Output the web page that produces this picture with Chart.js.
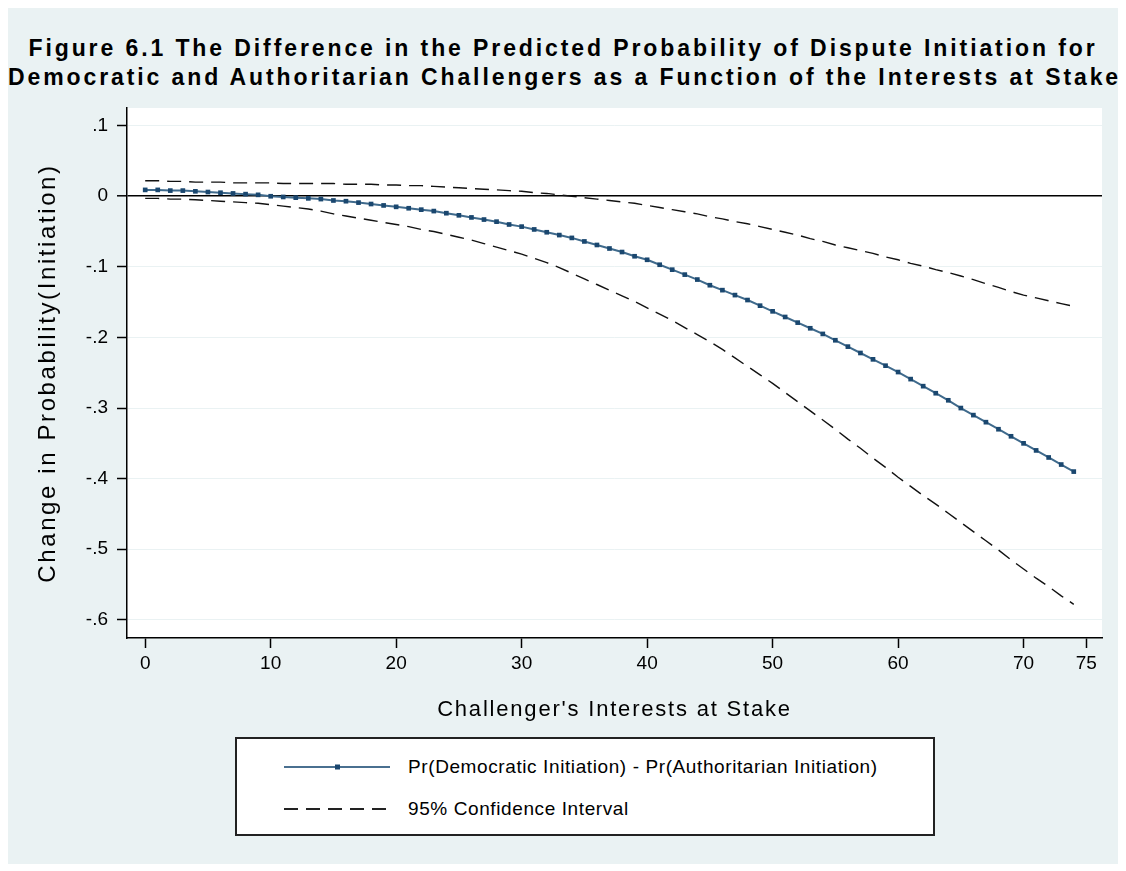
<!DOCTYPE html>
<html>
<head>
<meta charset="utf-8">
<title>Figure 6.1</title>
<script src="https://cdn.jsdelivr.net/npm/chart.js@4.4.1/dist/chart.umd.min.js"></script>
<style>
  body { margin: 0; background: #fff; font-family: "Liberation Sans", Arial, sans-serif; }
  #frame { position: relative; width: 1126px; height: 871px; overflow: hidden; }
  #panel { position: absolute; left: 8px; top: 8px; width: 1110px; height: 856px; background: #eaf2f3; }
  #title {
    position: absolute; left: 8px; top: 34px; width: 1110px;
    text-align: center; font-weight: bold; font-size: 23px; line-height: 29px;
    letter-spacing: 2.9px; color: #000; white-space: nowrap;
  }
  #chartBox { position: absolute; left: 0; top: 0; width: 1126px; height: 871px; }
  #legend {
    position: absolute; left: 235px; top: 737px; width: 696px; height: 95px;
    background: #fff; border: 2px solid #222;
  }
  .row { position: absolute; left: 0; height: 24px; display: flex; align-items: center; }
  .row svg { margin-left: 47px; margin-right: 18px; }
  .row span { font-size: 19px; letter-spacing: 0.6px; color: #000; white-space: nowrap; }
</style>
</head>
<body>
<div id="frame">
  <div id="panel"></div>
  <div id="title">Figure 6.1 The Difference in the Predicted Probability of Dispute Initiation for<br>Democratic and Authoritarian Challengers as a Function of the Interests at Stake</div>
  <div id="chartBox"><canvas id="grafico"></canvas></div>
  <div id="legend">
    <div class="row" style="top:16px">
      <svg width="106" height="10"><line x1="0" y1="5" x2="106" y2="5" stroke="#4a7090" stroke-width="2"/><rect x="51" y="2.5" width="5" height="5" fill="#1a476f"/></svg>
      <span id="lab0"></span>
    </div>
    <div class="row" style="top:58px">
      <svg width="106" height="10"><line x1="0" y1="5" x2="106" y2="5" stroke="#222" stroke-width="2" stroke-dasharray="14 8"/></svg>
      <span id="lab1"></span>
    </div>
  </div>
</div>
<script>
// interests at stake (x) and the three estimated curves
const interesses = [
  0, 1, 2, 3, 4, 5, 6, 7, 8, 9, 10, 11, 12, 13, 14, 15, 16, 17, 18, 19,
  20, 21, 22, 23, 24, 25, 26, 27, 28, 29, 30, 31, 32, 33, 34, 35, 36, 37, 38, 39,
  40, 41, 42, 43, 44, 45, 46, 47, 48, 49, 50, 51, 52, 53, 54, 55, 56, 57, 58, 59,
  60, 61, 62, 63, 64, 65, 66, 67, 68, 69, 70, 71, 72, 73, 74
];

const diferenca = [
  0.009, 0.009, 0.008, 0.008, 0.007, 0.006, 0.005, 0.004, 0.003, 0.002,
  0.000, -0.001, -0.002, -0.003, -0.004, -0.006, -0.007, -0.009, -0.011, -0.013,
  -0.015, -0.017, -0.019, -0.021, -0.024, -0.027, -0.030, -0.033, -0.036, -0.040,
  -0.043, -0.047, -0.051, -0.055, -0.059, -0.064, -0.069, -0.074, -0.079, -0.085,
  -0.090, -0.097, -0.104, -0.111, -0.118, -0.126, -0.133, -0.140, -0.147, -0.155,
  -0.163, -0.171, -0.179, -0.187, -0.195, -0.204, -0.213, -0.222, -0.231, -0.240,
  -0.249, -0.259, -0.269, -0.279, -0.289, -0.300, -0.310, -0.320, -0.330, -0.340,
  -0.350, -0.360, -0.370, -0.380, -0.390
];

const limiteSuperior = [
  0.022, 0.022, 0.021, 0.021, 0.020, 0.020, 0.020, 0.019, 0.019, 0.019,
  0.019, 0.018, 0.018, 0.018, 0.018, 0.018, 0.017, 0.017, 0.017, 0.016,
  0.016, 0.015, 0.015, 0.014, 0.013, 0.012, 0.011, 0.010, 0.009, 0.008,
  0.007, 0.005, 0.004, 0.002, 0.000, -0.002, -0.004, -0.006, -0.008, -0.010,
  -0.013, -0.016, -0.019, -0.022, -0.025, -0.029, -0.032, -0.036, -0.039, -0.043,
  -0.047, -0.051, -0.055, -0.060, -0.064, -0.069, -0.073, -0.077, -0.081, -0.086,
  -0.090, -0.095, -0.099, -0.104, -0.108, -0.113, -0.118, -0.124, -0.129, -0.135,
  -0.140, -0.144, -0.148, -0.152, -0.156
];

const limiteInferior = [
  -0.003, -0.003, -0.004, -0.004, -0.005, -0.006, -0.007, -0.008, -0.009, -0.010,
  -0.012, -0.014, -0.016, -0.018, -0.021, -0.025, -0.028, -0.031, -0.034, -0.037,
  -0.040, -0.043, -0.047, -0.050, -0.054, -0.058, -0.062, -0.067, -0.072, -0.077,
  -0.082, -0.088, -0.094, -0.101, -0.109, -0.117, -0.125, -0.133, -0.141, -0.149,
  -0.158, -0.167, -0.176, -0.186, -0.196, -0.206, -0.217, -0.229, -0.241, -0.253,
  -0.265, -0.278, -0.291, -0.304, -0.317, -0.330, -0.344, -0.357, -0.371, -0.384,
  -0.398, -0.411, -0.424, -0.436, -0.449, -0.462, -0.475, -0.488, -0.501, -0.515,
  -0.528, -0.541, -0.553, -0.566, -0.578
];

const ticksX = [0, 10, 20, 30, 40, 50, 60, 70, 75];
const ticksY = [0.1, 0, -0.1, -0.2, -0.3, -0.4, -0.5, -0.6];
const rotulosY = ['.1', '0', '-.1', '-.2', '-.3', '-.4', '-.5', '-.6'];

const nomes = ['Pr(Democratic Initiation) - Pr(Authoritarian Initiation)', '95% Confidence Interval'];

document.getElementById('lab0').textContent = nomes[0];
document.getElementById('lab1').textContent = nomes[1];

const pontos = (serie) => interesses.map((x, i) => ({ x: x, y: serie[i] }));

// white plot region behind the grid
const fundoBranco = {
  id: 'fundoBranco',
  beforeDraw(chart) {
    const { ctx, chartArea: a } = chart;
    ctx.save();
    ctx.fillStyle = '#fff';
    ctx.fillRect(a.left, a.top, a.right - a.left, a.bottom - a.top);
    ctx.restore();
  }
};

// axis titles are drawn with a little letter spacing
const espacamentoTitulo = { x: '1.8px', y: '2.6px' };
const tituloEspacado = {
  id: 'tituloEspacado',
  afterUpdate(chart) {
    Object.values(chart.scales).forEach((s) => {
      if (s._espacado) return;
      const original = s.drawTitle.bind(s);
      s.drawTitle = function () {
        const c = this.ctx;
        c.save();
        c.letterSpacing = espacamentoTitulo[this.id] || '0px';
        original();
        c.restore();
      };
      s._espacado = true;
    });
  }
};

Chart.defaults.font.family = "'Liberation Sans', Arial, sans-serif";
Chart.defaults.color = '#000';

const ctx = document.getElementById('grafico').getContext('2d');
const chart = new Chart(ctx, {
  type: 'line',
  data: {
    datasets: [
      {
        label: nomes[0],
        data: pontos(diferenca),
        borderColor: '#3f6a8c',
        borderWidth: 2,
        pointStyle: 'rect',
        pointRadius: 3.3,
        pointBackgroundColor: '#1a476f',
        pointBorderWidth: 0,
        tension: 0,
        order: 0
      },
      {
        label: nomes[1],
        data: pontos(limiteSuperior),
        borderColor: '#111',
        borderWidth: 1.4,
        borderDash: [14, 8],
        pointRadius: 0,
        tension: 0,
        order: 1
      },
      {
        label: nomes[1],
        data: pontos(limiteInferior),
        borderColor: '#111',
        borderWidth: 1.4,
        borderDash: [14, 8],
        pointRadius: 0,
        tension: 0,
        order: 1
      }
    ]
  },
  options: {
    responsive: true,
    maintainAspectRatio: false,
    animation: false,
    layout: { padding: { left: 0, top: 108, right: 24, bottom: 133 } },
    plugins: {
      legend: { display: false },
      tooltip: { enabled: false },
      title: { display: false }
    },
    scales: {
      x: {
        type: 'linear',
        min: -1.45,
        max: 76.25,
        afterBuildTicks: (scale) => { scale.ticks = ticksX.map(v => ({ value: v })); },
        afterFit: (scale) => { scale.height = 100; },
        ticks: {
          font: { size: 19 },
          padding: 4,
          maxRotation: 0,
          autoSkip: false,
          callback: (v) => String(v)
        },
        grid: { drawOnChartArea: false, tickLength: 10, tickColor: '#000', tickWidth: 1.5 },
        border: { color: '#000', width: 1.5 },
        title: {
          display: true,
          text: "Challenger's Interests at Stake",
          font: { size: 22 },
          padding: { top: 0, bottom: 15 }
        }
      },
      y: {
        min: -0.6257,
        max: 0.125,
        afterBuildTicks: (scale) => { scale.ticks = ticksY.map(v => ({ value: v })); },
        afterFit: (scale) => { scale.width = 127; },
        ticks: {
          font: { size: 19 },
          padding: 9,
          autoSkip: false,
          callback: (v) => rotulosY[ticksY.findIndex(t => Math.abs(t - v) < 1e-9)]
        },
        grid: {
          color: (c) => (c.tick && Math.abs(c.tick.value) < 1e-9 ? '#000' : '#eaf2f3'),
          lineWidth: (c) => (c.tick && Math.abs(c.tick.value) < 1e-9 ? 1.6 : 1),
          tickLength: 10,
          tickColor: '#000',
          tickWidth: 1.5
        },
        border: { color: '#000', width: 1.5 },
        title: {
          display: true,
          text: 'Change in Probability(Initiation)',
          font: { size: 24 },
          padding: { top: 34, bottom: 0 }
        }
      }
    }
  },
  plugins: [fundoBranco, tituloEspacado]
});
</script>
</body>
</html>
